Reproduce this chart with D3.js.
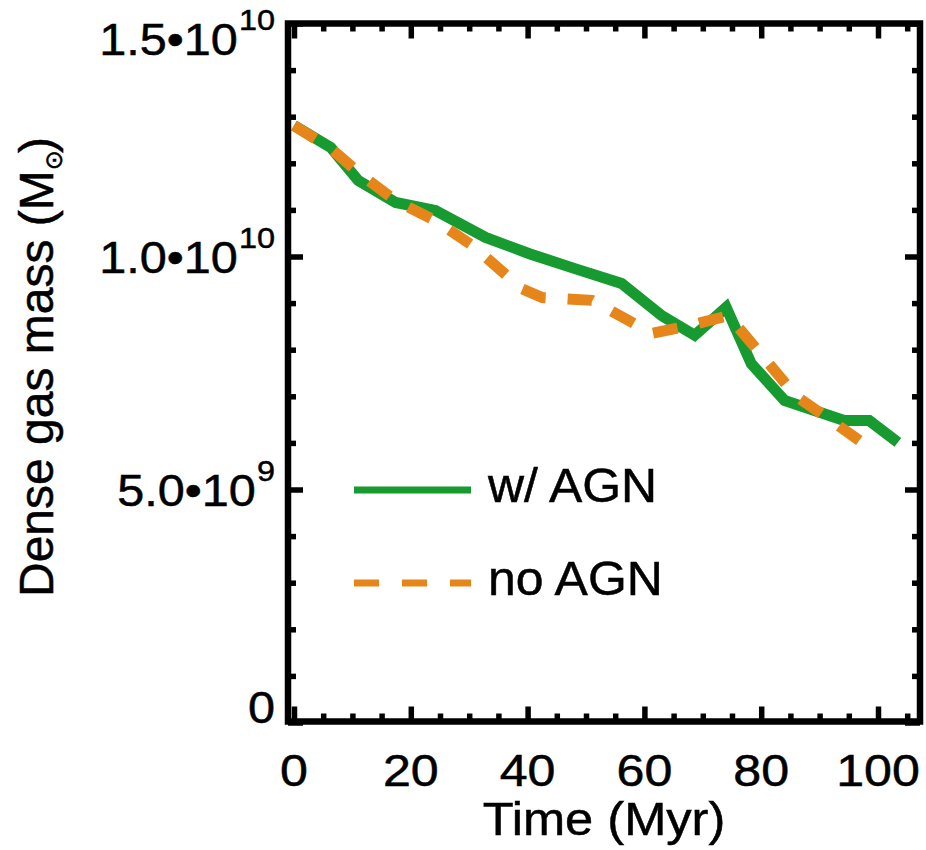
<!DOCTYPE html>
<html>
<head>
<meta charset="utf-8">
<script src="https://cdn.jsdelivr.net/npm/d3@7"></script>
<style>
  html, body { margin: 0; padding: 0; background: #fff; }
  svg { display: block; }
  text { font-family: "Liberation Sans", Arial, Helvetica, sans-serif; fill: #000; stroke: #000; stroke-width: 0.5px; }
</style>
</head>
<body>
<svg id="chart" width="926" height="850"></svg>
<script>
// ---- data ----
const timeAGN   = [0, 6.3, 11, 17.4, 24.2, 32.8, 40.3, 48.1, 56.1, 63, 68.6, 74, 78.3, 84, 94.2, 98.5, 103.4];
const massAGN   = [1.281e10, 1.234e10, 1.163e10, 1.116e10, 1.099e10, 1.041e10, 1.006e10, 0.974e10, 0.942e10,
                   0.873e10, 0.831e10, 0.891e10, 0.770e10, 0.691e10, 0.648e10, 0.648e10, 0.601e10];
const timeNoAGN = [0, 6.3, 11.8, 17.4, 24.2, 30.5, 39, 42.5, 51, 61.3, 66.4, 74.4, 86, 92, 96.8];
const massNoAGN = [1.281e10, 1.232e10, 1.172e10, 1.120e10, 1.077e10, 1.024e10, 0.931e10, 0.912e10, 0.906e10,
                   0.835e10, 0.848e10, 0.873e10, 0.700e10, 0.648e10, 0.605e10];
const seriesNames = ["w/ AGN", "no AGN"];
const xMajorTicks = [0, 20, 40, 60, 80, 100];
const xMinorTicks = [5, 10, 15, 25, 30, 35, 45, 50, 55, 65, 70, 75, 85, 90, 95, 105];
const yMajorTicks = [0, 5e9, 1e10, 1.5e10];
const yMinorTicks = [1e9, 2e9, 3e9, 4e9, 6e9, 7e9, 8e9, 9e9, 11e9, 12e9, 13e9, 14e9];
const yTickMantissa = ["0", "5.0\u202210", "1.0\u202210", "1.5\u202210"];
const yTickExponent = ["", "9", "10", "10"];
const xTitle = "Time (Myr)";
const yTitle = "Dense gas mass (M";

// ---- layout ----
const frame = { left: 288, right: 920, top: 23.5, bottom: 721.5 };
const green = "#179a2f", orange = "#e6861a";

const svg = d3.select("#chart");
const x = d3.scaleLinear().domain([0, 100]).range([294, 878]);
const y = d3.scaleLinear().domain([0, 1.5e10]).range([722.5, 23.5]);

// ---- data lines ----
const line = d3.line().x(d => x(d[0])).y(d => y(d[1]));
const agn = timeAGN.map((t, i) => [t, massAGN[i]]);
const noagn = timeNoAGN.map((t, i) => [t, massNoAGN[i]]);

svg.append("path").datum(agn).attr("d", line)
  .attr("fill", "none").attr("stroke", green).attr("stroke-width", 11)
  .attr("stroke-linejoin", "miter").attr("stroke-miterlimit", 4);
svg.append("path").datum(noagn).attr("d", line)
  .attr("fill", "none").attr("stroke", orange).attr("stroke-width", 11)
  .attr("stroke-dasharray", "25,22").attr("stroke-linejoin", "miter");

// ---- axes ticks (inward on all four sides) ----
function styleAxis(g) {
  g.select(".domain").remove();
  g.selectAll(".tick line").attr("stroke", "#000").attr("stroke-width", 5.5);
  g.selectAll(".tick text").remove();
}
const axes = [
  [d3.axisBottom(x), `translate(0,${frame.bottom})`, xMajorTicks, xMinorTicks],
  [d3.axisTop(x), `translate(0,${frame.top})`, xMajorTicks, xMinorTicks],
  [d3.axisLeft(y), `translate(${frame.left},0)`, yMajorTicks, yMinorTicks],
  [d3.axisRight(y), `translate(${frame.right},0)`, yMajorTicks, yMinorTicks]
];
axes.forEach(([ax, tr, maj, min]) => {
  svg.append("g").attr("transform", tr)
    .call(ax.tickValues(maj).tickSize(-15).tickFormat(""))
    .call(styleAxis);
  svg.append("g").attr("transform", tr)
    .call(ax.tickValues(min).tickSize(-8).tickFormat(""))
    .call(styleAxis);
});

// ---- frame ----
svg.append("rect")
  .attr("x", frame.left).attr("y", frame.top)
  .attr("width", frame.right - frame.left).attr("height", frame.bottom - frame.top)
  .attr("fill", "none").attr("stroke", "#000").attr("stroke-width", 6.5);

// helper: text stretched horizontally like the reference's wide Helvetica
function wideText(px, py, sx, anchor, size) {
  return svg.append("text")
    .attr("transform", `translate(${px},${py}) scale(${sx},1)`)
    .attr("text-anchor", anchor).attr("font-size", size);
}

// ---- x tick labels ----
xMajorTicks.forEach(v => {
  wideText(x(v), 786, 1.14, "middle", 44).text(v);
});

// ---- y tick labels with exponents ----
yMajorTicks.forEach((v, i) => {
  const cy = Math.max(39, Math.min(707, y(v)));
  const t = wideText(275, cy + 16, 1.08, "end", 45);
  t.append("tspan").text(yTickMantissa[i]);
  if (yTickExponent[i]) {
    t.append("tspan").attr("dy", -25).attr("font-size", 30).attr("dx", 1).text(yTickExponent[i]);
  }
});

// ---- axis titles ----
wideText((frame.left + frame.right) / 2, 835, 1.1, "middle", 46).text(xTitle);

const yt = svg.append("text")
  .attr("transform", "translate(53,597) rotate(-90)")
  .attr("text-anchor", "start").attr("font-size", 48);
yt.append("tspan").text(yTitle);
yt.append("tspan").attr("font-size", 24).attr("dy", 9).attr("font-family", "DejaVu Sans").text("\u2299");
yt.append("tspan").attr("dy", -9).attr("dx", -3).text(")");

// ---- legend ----
const legend = [
  { name: seriesNames[0], color: green, dash: null, y: 490, ty: 502 },
  { name: seriesNames[1], color: orange, dash: "25,23", y: 583, ty: 595 }
];
legend.forEach(l => {
  svg.append("line")
    .attr("x1", 354).attr("x2", 471).attr("y1", l.y).attr("y2", l.y)
    .attr("stroke", l.color).attr("stroke-width", 7)
    .attr("stroke-dasharray", l.dash);
  wideText(488, l.ty, 1.04, "start", 48).text(l.name);
});
</script>
</body>
</html>
